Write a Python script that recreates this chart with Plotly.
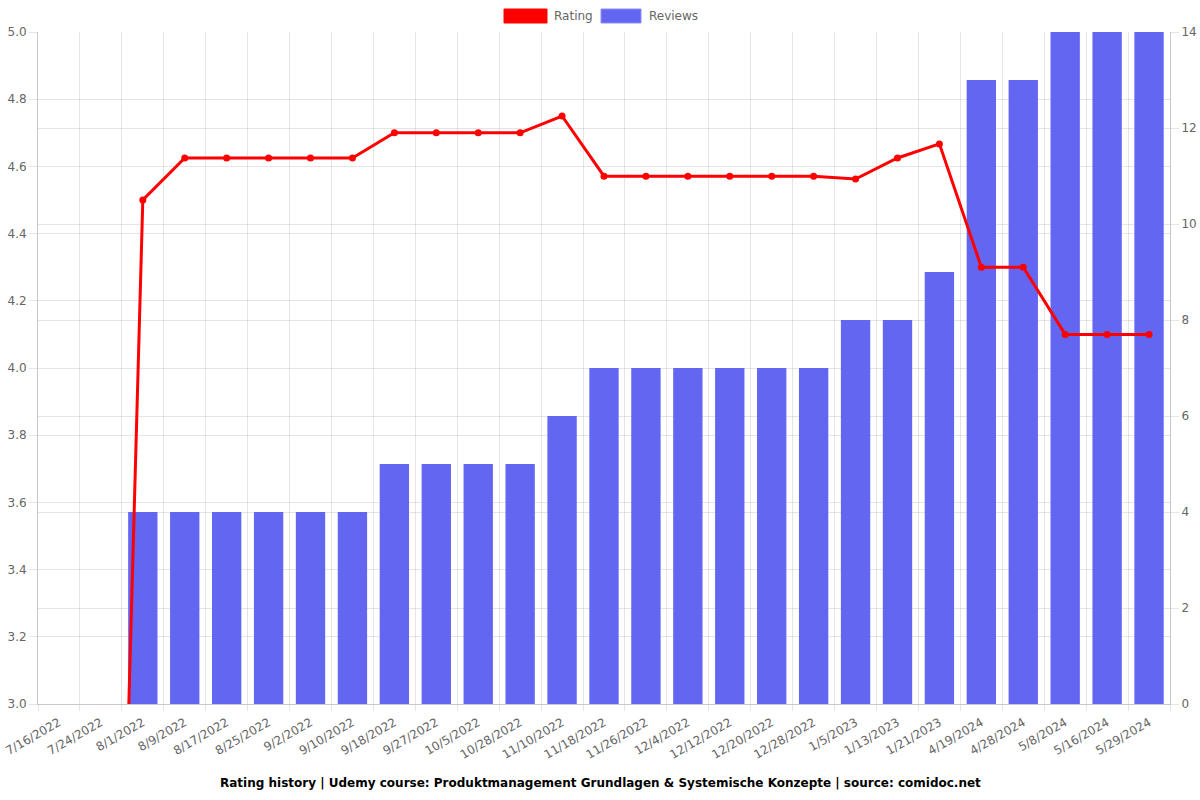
import plotly.graph_objects as go

dates = ["7/16/2022", "7/24/2022", "8/1/2022", "8/9/2022", "8/17/2022", "8/25/2022",
         "9/2/2022", "9/10/2022", "9/18/2022", "9/27/2022", "10/5/2022", "10/28/2022",
         "11/10/2022", "11/18/2022", "11/26/2022", "12/4/2022", "12/12/2022", "12/20/2022",
         "12/28/2022", "1/5/2023", "1/13/2023", "1/21/2023", "4/19/2024", "4/28/2024",
         "5/8/2024", "5/16/2024", "5/29/2024"]
rating = [0, 0, 4.5, 4.625, 4.625, 4.625, 4.625, 4.625, 4.7, 4.7, 4.7, 4.7, 4.75,
          4.571, 4.571, 4.571, 4.571, 4.571, 4.571, 4.5625, 4.625, 4.667, 4.3, 4.3,
          4.1, 4.1, 4.1]
reviews = [0, 0, 4, 4, 4, 4, 4, 4, 5, 5, 5, 5, 6, 7, 7, 7, 7, 7, 7, 8, 8, 9, 13, 13, 14, 14, 14]

title = "Rating history | Udemy course: Produktmanagement Grundlagen & Systemische Konzepte | source: comidoc.net"

RED = "rgb(255,0,0)"
BLUE = "rgb(99,102,241)"
GRID = "rgba(0,0,0,0.1)"
AXIS = "rgb(200,200,200)"
TXT = "#666"
FONT = "DejaVu Sans"

fig = go.Figure()
fig.add_trace(go.Bar(x=dates, y=reviews, name="Reviews", yaxis="y",
                     marker=dict(color=BLUE, line=dict(width=0)),
                     showlegend=False))
fig.add_trace(go.Scatter(x=dates, y=rating, name="Rating", yaxis="y2", mode="lines+markers",
                         line=dict(color=RED, width=3), marker=dict(color=RED, size=7),
                         showlegend=False))

L, R, T, B = 38, 30, 32, 96
W, H = 1200, 800
pw, ph = W - L - R, H - T - B

def px(x):
    return (x - L) / pw

def py(y):
    return (H - B - y) / ph

shapes = [
    dict(type="rect", xref="paper", yref="paper", x0=px(504), x1=px(547), y0=py(23), y1=py(9),
         fillcolor=RED, line=dict(color=RED, width=1)),
    dict(type="rect", xref="paper", yref="paper", x0=px(601), x1=px(641), y0=py(23), y1=py(9),
         fillcolor=BLUE, line=dict(color="rgba(140,143,250,1)", width=1)),
]
annotations = [
    dict(text="Rating", xref="paper", yref="paper", x=px(552), y=py(16), xanchor="left",
         yanchor="middle", showarrow=False, font=dict(family=FONT, size=12, color=TXT)),
    dict(text="Reviews", xref="paper", yref="paper", x=px(647), y=py(16), xanchor="left",
         yanchor="middle", showarrow=False, font=dict(family=FONT, size=12, color=TXT)),
    dict(text="<b>" + title + "</b>", xref="paper", yref="paper", x=px(600), y=py(783),
         xanchor="center", yanchor="middle", showarrow=False,
         font=dict(family=FONT, size=12, color="#000")),
]

fig.update_layout(
    width=W, height=H,
    margin=dict(l=L, r=R, t=T, b=B, autoexpand=False),
    paper_bgcolor="white", plot_bgcolor="white",
    font=dict(family=FONT, size=12, color=TXT),
    barmode="overlay", bargap=0.3,
    showlegend=False,
    shapes=shapes, annotations=annotations,
    xaxis=dict(type="category", tickson="boundaries", tickangle=-30,
               range=[-0.5, len(dates) - 0.5],
               showgrid=True, gridcolor=GRID, gridwidth=1,
               showline=True, linecolor=AXIS, linewidth=1,
               ticks="outside", ticklen=6, tickcolor=GRID, ticklabelstandoff=6,
               tickfont=dict(family=FONT, size=12, color=TXT)),
    yaxis=dict(side="right", range=[0, 14], dtick=2, showgrid=True, gridcolor=GRID,
               showline=True, linecolor=AXIS, linewidth=1, zeroline=False,
               ticks="outside", ticklen=8, tickcolor=GRID,
               tickfont=dict(family=FONT, size=12, color=TXT)),
    yaxis2=dict(side="left", overlaying="y", range=[3, 5], dtick=0.2, tickformat=".1f",
                showgrid=True, gridcolor=GRID, showline=True, linecolor=AXIS, linewidth=1,
                zeroline=False, ticks="outside", ticklen=8, tickcolor=GRID,
                tickfont=dict(family=FONT, size=12, color=TXT)),
)

fig.write_html("out.html")
